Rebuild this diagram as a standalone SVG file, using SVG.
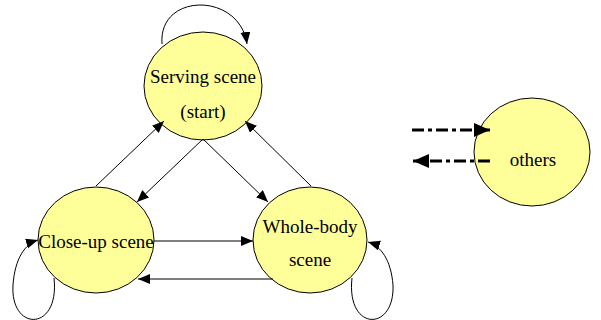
<svg xmlns="http://www.w3.org/2000/svg" width="601" height="320" viewBox="0 0 601 320">
<style>
.node ellipse{fill:#ffff99;stroke:#000;stroke-width:1}
.node text{font-family:"Liberation Serif","Times New Roman",serif;font-size:19px;fill:#000;text-anchor:middle}
.e{fill:none;stroke:#000;stroke-width:1}
.d{fill:none;stroke:#000;stroke-width:3;stroke-dasharray:12,4,4,4}
</style>
<defs>
<marker id="a" markerUnits="userSpaceOnUse" markerWidth="13" markerHeight="11" refX="12" refY="5" orient="auto"><path d="M0,0 L12,5 L0,10 z" fill="#000"/></marker>
<marker id="b" markerUnits="userSpaceOnUse" markerWidth="17" markerHeight="15" refX="16" refY="7" orient="auto"><path d="M0,0 L16,7 L0,14 z" fill="#000"/></marker>
</defs>
<g id="serving" class="node"><ellipse cx="203" cy="86" rx="59" ry="54"/><text x="203" y="83">Serving scene</text><text x="203" y="118">(start)</text></g>
<g id="closeup" class="node"><ellipse cx="96" cy="240" rx="58" ry="53"/><text x="96" y="248">Close-up scene</text></g>
<g id="wholebody" class="node"><ellipse cx="310" cy="240" rx="57" ry="53"/><text x="310" y="233">Whole-body</text><text x="310" y="266">scene</text></g>
<g id="others" class="node"><ellipse cx="532" cy="152" rx="58" ry="54"/><text x="533" y="166">others</text></g>
<g id="connectors">
<path class="e" d="M162,44 C158,-8 240,-8 247,44" marker-end="url(#a)"/>
<path class="e" d="M96,186 L164,121" marker-end="url(#a)"/>
<path class="e" d="M203,139 L137,202" marker-end="url(#a)"/>
<path class="e" d="M203,139 L268,202" marker-end="url(#a)"/>
<path class="e" d="M311,186 L245,121" marker-end="url(#a)"/>
<path class="e" d="M154,241 L253,241" marker-end="url(#a)"/>
<path class="e" d="M273,279 L138,279" marker-end="url(#a)"/>
<path class="e" d="M54,278 C60,332 10,332 13,285 C15,258 25,244 38,240" marker-end="url(#a)"/>
<path class="e" d="M352,278 C346,332 395,332 393,285 C391,260 381,246 368,242" marker-end="url(#a)"/>
<path class="d" d="M412,130 L490,130" marker-end="url(#b)"/>
<path class="d" d="M490,161 L413,161" marker-end="url(#b)"/>
</g>
</svg>
